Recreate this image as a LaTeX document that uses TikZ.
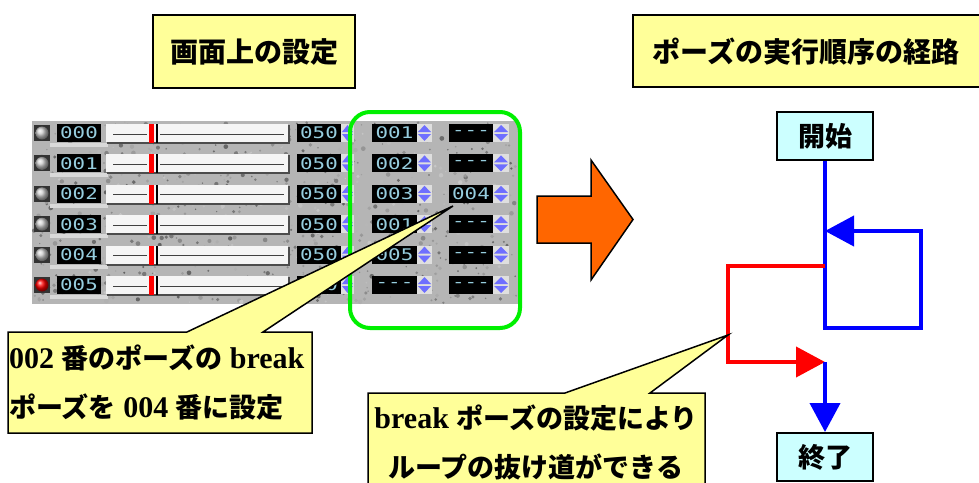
\documentclass[tikz,border=0pt]{standalone}
\usepackage{fontspec}
\setmainfont{Liberation Serif}
\newfontfamily\jp{Noto Sans CJK JP}
\newfontfamily\lcdfont{DejaVu Sans Mono}
\usetikzlibrary{arrows.meta}
\definecolor{noteyellow}{RGB}{255,255,153}
\definecolor{flowcyan}{RGB}{204,255,255}
\definecolor{lcdc}{RGB}{150,205,222}
\definecolor{spinblue}{RGB}{110,110,255}
\definecolor{arrorange}{RGB}{255,102,0}
\definecolor{brightgreen}{RGB}{0,240,0}
\newcommand{\J}[1]{{\jp\bfseries\fontsize{27}{30}\selectfont #1}}
\tikzset{
  titlebox/.style={draw=black, line width=2pt, fill=noteyellow},
  titletext/.style={font=\jp\bfseries\fontsize{28}{30}\selectfont, inner sep=0pt},
  calloutshape/.style={draw=black, line width=1.5pt, fill=noteyellow, line join=miter},
  callouttext/.style={font=\bfseries\fontsize{30}{32}\selectfont, inner sep=0pt},
  flowbox/.style={draw=black, line width=2pt, fill=flowcyan, minimum width=96pt, minimum height=48pt, inner sep=0pt, font=\jp\bfseries\fontsize{27}{30}\selectfont},
  blueline/.style={draw=blue, line width=4pt, line join=miter},
  redline/.style={draw=red, line width=4pt, line join=miter},
  bigtip/.style={-{Triangle[length=29pt,width=30pt]}},
  lcdbox/.style={fill=black},
  lcd/.style={text=lcdc, font=\lcdfont\fontsize{16}{16}\selectfont, inner sep=0pt},
  spinbg/.style={fill=gray!25},
  spintri/.style={fill=spinblue},
}
\begin{document}
\begin{tikzpicture}[x=1pt,y=-1pt]
\useasboundingbox (0,0) rectangle (979,482);
\fill[white] (0,0) rectangle (979,482);

% titles
\draw[titlebox] (153,15) rectangle (355,88);
\node[titletext] (t1) at (254,52) {画面上の設定};
\draw[titlebox] (633,15) rectangle (985,87);
\node[titletext] (t2) at (806,52) {ポーズの実行順序の経路};

% screenshot panel
\fill[gray!58] (32,121) rectangle (518,304);
\pgfmathsetseed{7}
\foreach \i in {1,...,900}{
  \pgfmathsetmacro\rx{33+484*rnd}
  \pgfmathsetmacro\ry{122+181*rnd}
  \pgfmathsetmacro\rs{0.6+1.8*rnd}
  \pgfmathsetmacro\rc{22+40*rnd}
  \fill[black!\rc!white] (\rx,\ry) circle[radius=\rs pt];
}
\foreach \r/\a/\b/\c/\bc in {0/000/001/---/gray!40, 1/001/002/---/gray!40, 2/002/003/004/gray!40, 3/003/001/---/gray!40, 4/004/005/---/gray!40, 5/005/---/---/red}{
  \pgfmathsetmacro\cy{133+30.4*\r}
  % light channel under row
  \fill[gray!30] (50,\cy+10) rectangle (108,\cy+14);
  % ball
  \fill[black!80] (34,\cy-8) rectangle (50,\cy+8);
  \shade[ball color=\bc] (42,\cy) circle[radius=6.5pt];
  % display 1
  \fill[lcdbox] (57,\cy-9) rectangle (101,\cy+9);
  \node[lcd] (da-\r) at (79,\cy) {\scalebox{1.3}[1]{\a}};
  % slider
  \fill[gray!60!black] (107,\cy-8) rectangle (290,\cy+11);
  \fill[gray!8] (106,\cy-9) rectangle (288,\cy+9);
  \draw[black!75, line width=1pt] (113,\cy+1) -- (147,\cy+1);
  \draw[black!75, line width=1pt] (160,\cy+1) -- (284,\cy+1);
  \fill[red] (149,\cy-9) rectangle (154,\cy+10);
  \draw[black, line width=1.5pt] (157,\cy-9) -- (157,\cy+10);
  % display 050
  \fill[lcdbox] (297,\cy-9) rectangle (341,\cy+9);
  \node[lcd] (db-\r) at (319,\cy) {\scalebox{1.3}[1]{050}};
  \fill[spinbg] (341,\cy-9) rectangle (354,\cy+9);
  \fill[spintri] (342,\cy-1) -- (353,\cy-1) -- (347.5,\cy-8) -- cycle;
  \fill[spintri] (342,\cy+1) -- (353,\cy+1) -- (347.5,\cy+8) -- cycle;
  % display next
  \fill[lcdbox] (372,\cy-9) rectangle (417,\cy+9);
  \node[lcd] (dc-\r) at (394.5,\cy) {\scalebox{1.3}[1]{\b}};
  \fill[spinbg] (417,\cy-9) rectangle (432,\cy+9);
  \fill[spintri] (418,\cy-1) -- (431,\cy-1) -- (424.5,\cy-8) -- cycle;
  \fill[spintri] (418,\cy+1) -- (431,\cy+1) -- (424.5,\cy+8) -- cycle;
  % display break
  \fill[lcdbox] (449,\cy-9) rectangle (493,\cy+9);
  \node[lcd] (dd-\r) at (471,\cy) {\scalebox{1.3}[1]{\c}};
  \fill[spinbg] (493,\cy-9) rectangle (509,\cy+9);
  \fill[spintri] (494,\cy-1) -- (508,\cy-1) -- (501,\cy-8) -- cycle;
  \fill[spintri] (494,\cy+1) -- (508,\cy+1) -- (501,\cy+8) -- cycle;
}

% green highlight
\draw[brightgreen, line width=4pt, rounded corners=20pt] (350,112) rectangle (520,328);

% big orange arrow
\draw[fill=arrorange, draw=black, line width=1.5pt, line join=miter]
  (537,196) -- (591,196) -- (591,160) -- (633,219.5) -- (591,280) -- (591,243) -- (537,243) -- cycle;

% callout 1
\coordinate (c1tip) at (453,206);
\draw[calloutshape] (8,332) -- (187,332) -- (c1tip) -- (263,332) -- (312,332) -- (312,433) -- (8,433) -- cycle;
\node[callouttext, anchor=west] (c1a) at (9,358) {002 \J{番のポーズの} break};
\node[callouttext, anchor=west] (c1b) at (9,407) {\J{ポーズを} 004 \J{番に設定}};

% flow diagram
\node[flowbox] (start) at (825,136) {開始};
\node[flowbox] (end) at (825,457) {終了};
\coordinate (loopBL) at (825,328);
\coordinate (loopBR) at (921,328);
\coordinate (loopTR) at (921,231);
\coordinate (loopIn) at (825,231);
\coordinate (brk) at (825,266);
\coordinate (redA) at (728,266);
\coordinate (redB) at (728,362);
\coordinate (join) at (825,362);
\draw[blueline, bigtip] (start.south) -- (loopBL) -- (loopBR) -- (loopTR) -- (loopIn);
\draw[redline, bigtip] (brk) -- (redA) -- (redB) -- (join);
\draw[blueline, bigtip] (join) -- (end.north);

% callout 2
\coordinate (c2tip) at (728,335);
\draw[calloutshape] (368,393) -- (565,393) -- (c2tip) -- (650,393) -- (705,393) -- (705,492) -- (368,492) -- cycle;
\node[callouttext] (c2a) at (536,418) {break \J{ポーズの設定により}};
\node[callouttext] (c2b) at (536,467) {\J{ループの抜け道ができる}};
\end{tikzpicture}
\end{document}
